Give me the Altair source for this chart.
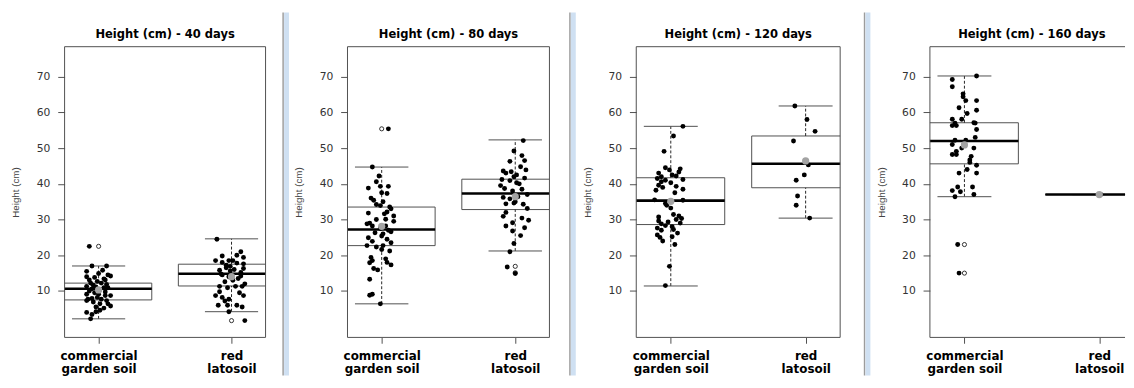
import json
import altair as alt
import pandas as pd

# ---------------- data ----------------
days = [40, 80, 120, 160]
soil_labels = ["commercial\ngarden soil", "red\nlatosoil"]
soil_pos = [1, 2]
y_ticks = [10, 20, 30, 40, 50, 60, 70]
y_domain = [-3.0, 78.4]
x_domain = [0.744, 2.256]

# observed heights (cm) and horizontal jitter (in group units)
h40_commercial = [22.5, 17.0, 17.0, 15.5, 14.9, 14.5, 14.0, 13.8, 13.4, 14.2, 12.2, 12.2, 11.8, 11.3, 11.1, 10.9,
                  10.0, 9.7, 9.1, 9.1, 8.7, 7.9, 7.7, 7.7, 7.3, 6.9, 6.4, 5.8, 5.5, 4.0, 4.6, 3.4, 2.2, 4.2, 10.9,
                  10.6, 10.4, 13.1, 13.1, 12.7, 7.3, 6.4, 8.2, 8.7, 15.8, 11.6, 9.5, 5.2]
j40_commercial = [-0.07, -0.05, 0.06, -0.09, 0.00, 0.07, -0.09, -0.03, 0.04, 0.09, -0.06, 0.02, 0.06, -0.09, -0.02,
                  0.07, -0.07, 0.05, -0.09, 0.00, 0.09, -0.05, -0.08, 0.02, 0.06, -0.04, 0.01, 0.09, -0.02, -0.09,
                  0.01, -0.05, -0.06, -0.02, 0.04, -0.05, 0.01, -0.07, 0.05, -0.01, -0.09, 0.07, -0.01, 0.05, 0.03,
                  -0.04, -0.03, 0.04]
h40_red = [24.5, 19.8, 21.0, 19.4, 18.5, 18.5, 18.5, 17.6, 15.8, 16.5, 16.3, 14.5, 14.0, 14.2, 11.3, 10.9, 11.3,
           11.3, 8.7, 8.2, 7.7, 8.7, 6.0, 6.0, 6.0, 5.5, 4.2, 1.7, 18.0, 17.8, 16.9, 16.0, 15.2, 14.8, 13.5, 12.6,
           12.0, 9.8, 9.5, 7.2, 15.6, 17.2, 13.0, 20.0]
j40_red = [-0.11, -0.07, 0.07, 0.09, -0.12, -0.02, 0.01, 0.09, -0.09, -0.04, 0.09, -0.07, -0.02, 0.07, -0.09, -0.03,
           0.03, 0.08, -0.12, -0.07, -0.02, 0.09, -0.10, -0.03, 0.04, 0.08, -0.02, 0.10, -0.07, 0.04, -0.01, 0.02,
           0.07, -0.08, 0.05, -0.05, 0.10, -0.09, 0.06, -0.05, -0.01, -0.04, 0.01, 0.04]

h80_commercial = [55.4, 44.7, 42.2, 38.8, 39.3, 39.3, 37.5, 37.3, 36.0, 35.4, 34.2, 33.9, 33.5, 33.0, 32.1, 31.8,
                  31.6, 30.1, 30.0, 29.5, 28.8, 28.2, 28.2, 27.5, 26.6, 26.3, 26.0, 25.4, 24.9, 24.5, 23.9, 22.7,
                  22.7, 22.3, 21.6, 21.2, 19.4, 19.0, 18.5, 18.0, 17.9, 17.3, 16.3, 15.9, 13.3, 9.1, 8.8, 6.4, 29.0,
                  31.0, 35.0, 40.6, 23.5, 27.0]
j80_commercial = [0.05, -0.07, -0.02, -0.10, -0.01, 0.05, 0.00, 0.04, -0.08, -0.06, -0.04, -0.01, 0.06, 0.07, 0.04,
                  -0.10, 0.02, 0.03, -0.04, 0.09, -0.11, -0.07, 0.03, -0.01, 0.07, -0.05, 0.01, 0.00, -0.10, 0.04,
                  -0.07, -0.11, 0.01, -0.04, 0.00, 0.06, -0.08, 0.03, -0.07, 0.04, -0.09, 0.07, -0.06, -0.03, -0.09,
                  -0.07, -0.09, -0.01, -0.09, 0.09, 0.01, -0.04, 0.07, 0.05]
h80_red = [52.1, 49.2, 47.9, 46.3, 46.5, 43.6, 43.0, 43.4, 42.5, 43.9, 41.2, 40.9, 40.3, 41.6, 38.7, 38.0, 38.5, 36.2,
           35.8, 36.4, 34.4, 34.6, 34.3, 33.1, 30.9, 30.4, 28.2, 29.1, 27.7, 26.8, 25.5, 23.3, 21.0, 16.7, 14.9, 42.0,
           40.0, 37.0, 39.5, 44.8, 32.0, 29.8, 35.0]
j80_red = [0.06, -0.01, 0.05, -0.04, 0.07, -0.09, -0.07, -0.03, 0.01, 0.08, -0.10, -0.04, 0.01, 0.07, -0.08, -0.02,
           0.05, -0.09, -0.04, 0.02, -0.07, -0.01, 0.06, 0.09, -0.09, 0.05, -0.07, -0.02, 0.07, -0.02, 0.04, -0.01,
           -0.04, -0.06, 0.00, -0.01, 0.03, 0.09, -0.11, 0.04, -0.07, 0.10, 0.00]

h120_commercial = [56.1, 53.4, 49.1, 44.5, 44.2, 43.9, 43.3, 43.0, 42.5, 42.2, 42.0, 41.5, 41.2, 41.0, 40.6, 40.3,
                   39.6, 39.3, 39.0, 38.5, 38.2, 37.5, 35.5, 35.4, 34.5, 34.0, 33.2, 31.4, 31.0, 30.7, 30.3, 30.0,
                   29.6, 29.3, 29.0, 28.8, 28.3, 28.0, 27.6, 27.2, 27.0, 26.2, 25.7, 25.2, 25.0, 24.0, 23.0, 16.9, 11.5]
j120_commercial = [0.09, 0.02, -0.05, -0.04, 0.07, -0.01, 0.06, -0.09, 0.01, 0.04, -0.07, -0.10, 0.09, -0.04, -0.07,
                   0.00, -0.09, 0.04, -0.06, 0.09, -0.11, 0.03, -0.12, 0.09, -0.04, -0.03, 0.00, 0.02, 0.06, -0.09,
                   0.08, 0.04, -0.09, -0.02, 0.07, -0.07, -0.04, 0.01, -0.10, 0.02, -0.07, 0.05, -0.10, 0.01, -0.08,
                   -0.06, 0.03, -0.01, -0.04]
h120_red = [61.8, 58.0, 54.7, 52.0, 45.3, 41.0, 42.5, 36.6, 34.0, 30.4]
j120_red = [-0.08, 0.01, 0.07, -0.09, 0.02, -0.07, -0.01, -0.06, -0.07, 0.03]

h160_commercial = [69.2, 70.2, 67.2, 65.2, 64.4, 63.3, 63.3, 61.3, 60.6, 59.7, 58.1, 58.1, 57.0, 57.1, 56.3, 56.3,
                   55.2, 53.0, 52.2, 52.2, 51.0, 50.0, 50.0, 49.1, 48.2, 48.2, 47.7, 46.7, 45.2, 44.0, 43.0, 43.0,
                   39.1, 39.1, 38.1, 37.8, 36.4, 37.0, 23.0, 15.0, 57.0, 46.0]
j160_commercial = [-0.09, 0.09, -0.09, -0.01, -0.01, 0.01, 0.09, -0.04, 0.09, 0.02, -0.09, -0.02, -0.07, 0.07, -0.09,
                   -0.06, 0.09, 0.08, -0.07, 0.01, -0.09, -0.02, 0.07, -0.06, -0.09, -0.06, 0.05, 0.04, 0.09, 0.02,
                   0.09, -0.04, 0.06, -0.05, -0.09, -0.03, -0.07, 0.07, -0.05, -0.04, 0.08, 0.04]
h160_red = [37.0]
j160_red = [0.01]

# box-plot statistics per day: [commercial garden soil, red latosoil]
whisker_low = [[2.2, 4.2], [6.4, 21.2], [11.4, 30.4], [36.4, 37.0]]
quartile_1 = [[7.5, 11.4], [22.7, 32.8], [28.6, 38.9], [45.6, 37.0]]
medians = [[10.6, 14.8], [27.2, 37.3], [35.3, 45.6], [52.0, 37.0]]
quartile_3 = [[12.2, 17.5], [33.5, 41.3], [41.7, 53.4], [57.1, 37.0]]
whisker_high = [[17.0, 24.6], [44.7, 52.3], [56.1, 61.8], [70.2, 37.0]]
means = [[10.3, 14.0], [28.1, 36.4], [35.1, 46.4], [50.9, 37.0]]
outliers = [[[22.5], [1.7]], [[55.4], [16.9, 15.1]], [[], []], [[23.0, 15.0], []]]

# ---------------- tables ----------------
heights = {40: (h40_commercial, h40_red), 80: (h80_commercial, h80_red),
           120: (h120_commercial, h120_red), 160: (h160_commercial, h160_red)}
jitters = {40: (j40_commercial, j40_red), 80: (j80_commercial, j80_red),
           120: (j120_commercial, j120_red), 160: (j160_commercial, j160_red)}

pt_rows, box_rows, out_rows = [], [], []
for i, d in enumerate(days):
    for k in range(2):
        for v, j in zip(heights[d][k], jitters[d][k]):
            pt_rows.append({"day": d, "pos": soil_pos[k], "height": v, "jit": j})
        box_rows.append({"day": d, "pos": soil_pos[k], "lo": whisker_low[i][k], "q1": quartile_1[i][k],
                         "med": medians[i][k], "q3": quartile_3[i][k], "hi": whisker_high[i][k],
                         "mean": means[i][k]})
        for v in outliers[i][k]:
            out_rows.append({"day": d, "pos": soil_pos[k], "height": v})

pts_df = pd.DataFrame(pt_rows)
box_df = pd.DataFrame(box_rows)
out_df = pd.DataFrame(out_rows)

label_arrays = [json.dumps(s.split("\n")) for s in soil_labels]
label_expr = f"datum.value == {soil_pos[0]} ? {label_arrays[0]} : {label_arrays[1]}"

PANEL_H = 298
SEP_TOP, SEP_BOT = -35, 337
FRAME = "#4d4d4d"
one = pd.DataFrame({"t": ["x"]})
FULL_W = 209


def vbar(x0, x1, color):
    return alt.Chart(one).mark_rect(color=color, opacity=1).encode(
        x=alt.value(x0), x2=alt.value(x1), y=alt.value(SEP_TOP), y2=alt.value(SEP_BOT))


def panel(i, width, sep_x, right_pad, right_border=True):
    d = days[i]
    # the last window is cut by the screen edge: same scale, shorter visible range
    x_max = x_domain[0] + (x_domain[1] - x_domain[0]) * width / (width if right_border else FULL_W)
    xs = alt.Scale(domain=[x_domain[0], x_max], nice=False, zero=False)
    ys = alt.Scale(domain=y_domain, nice=False, zero=False)
    x_axis = alt.Axis(values=soil_pos, labelExpr=label_expr, title=None, domain=False, grid=False,
                      tickSize=6, tickColor=FRAME, labelPadding=17, labelBaseline="alphabetic",
                      labelLineHeight=13, labelFont="DejaVu Sans", labelFontSize=12.2,
                      labelFontWeight="bold", labelColor="#000000", labelFlush=False,
                      labelOverlap=False, labelBound=False, labelAlign="center")
    y_axis = alt.Axis(values=y_ticks, title="Height (cm)", domain=False, grid=False, tickSize=7,
                      tickColor=FRAME, labelPadding=8, labelFont="DejaVu Sans", labelFontSize=11,
                      labelColor="#333333", titleFont="Liberation Sans", titleFontSize=10,
                      titleFontWeight="normal", titleColor="#444444", titleAngle=270, titleX=-47,
                      titleY=PANEL_H / 2, titleAlign="center", titleBaseline="alphabetic",
                      labelOverlap=False)

    def X(field):
        return alt.X(field, type="quantitative", scale=xs, axis=x_axis)

    def Y(field):
        return alt.Y(field, type="quantitative", scale=ys, axis=y_axis)

    bx = alt.Chart(box_df[box_df.day == d]).transform_calculate(
        left="datum.pos - 0.4", right="datum.pos + 0.4",
        cap_l="datum.pos - 0.2", cap_r="datum.pos + 0.2")

    boxes = bx.mark_rect(fill="white", fillOpacity=0, stroke=FRAME, strokeWidth=1, clip=True).encode(
        x=X("left"), x2="right", y=Y("q1"), y2="q3")
    wh_up = bx.mark_rule(color="#222222", strokeDash=[3, 2], strokeWidth=1, clip=True).encode(
        x=X("pos"), y=Y("q3"), y2="hi")
    wh_dn = bx.mark_rule(color="#222222", strokeDash=[3, 2], strokeWidth=1, clip=True).encode(
        x=X("pos"), y=Y("lo"), y2="q1")
    cap_hi = bx.mark_rule(color=FRAME, strokeWidth=1, clip=True).encode(
        x=X("cap_l"), x2="cap_r", y=Y("hi"))
    cap_lo = bx.mark_rule(color=FRAME, strokeWidth=1, clip=True).encode(
        x=X("cap_l"), x2="cap_r", y=Y("lo"))
    med = bx.mark_rule(color="#000000", strokeWidth=2.6, clip=True).encode(
        x=X("left"), x2="right", y=Y("med"))

    layers = []
    # window separators (the first panel gets an invisible one so all panels share the same extent)
    if sep_x is None:
        layers.append(vbar(-42, -38, "white"))
    else:
        layers.append(vbar(sep_x - 0.75, sep_x + 0.75, "#9c9c9c"))
        layers.append(vbar(sep_x + 1, sep_x + 6, "#cfe0f2"))
    if right_pad:
        layers.append(alt.Chart(one).mark_rule(color="white", strokeWidth=1).encode(
            x=alt.value(width + right_pad), y=alt.value(0), y2=alt.value(1)))

    layers += [boxes, wh_up, wh_dn, cap_hi, cap_lo]

    od = out_df[out_df.day == d]
    if len(od):
        layers.append(alt.Chart(od).mark_point(shape="circle", filled=False, color="#000000", size=18,
                                               strokeWidth=0.8, opacity=1, clip=True).encode(
            x=X("pos"), y=Y("height")))

    layers.append(med)
    layers.append(alt.Chart(pts_df[pts_df.day == d]).transform_calculate(xj="datum.pos + datum.jit")
                  .mark_circle(size=25, color="#000000", opacity=1, clip=True).encode(
        x=X("xj"), y=Y("height")))
    layers.append(bx.mark_circle(size=55, color="#a3a3a3", opacity=1, clip=True).encode(
        x=X("pos"), y=Y("mean")))

    # plot frame
    layers.append(alt.Chart(one).mark_rule(color=FRAME, strokeWidth=1).encode(x=alt.value(0)))
    if right_border:
        layers.append(alt.Chart(one).mark_rule(color=FRAME, strokeWidth=1).encode(x=alt.value(width)))
    layers.append(alt.Chart(one).mark_rule(color=FRAME, strokeWidth=1).encode(y=alt.value(0)))
    layers.append(alt.Chart(one).mark_rule(color=FRAME, strokeWidth=1).encode(y=alt.value(PANEL_H)))

    full = width if right_border else FULL_W
    title_df = pd.DataFrame({"t": [f"Height (cm) - {d} days"]})
    layers.append(alt.Chart(title_df).mark_text(font="DejaVu Sans", fontSize=11.8, fontWeight="bold",
                                                color="#000000", align="center", baseline="alphabetic").encode(
        x=alt.value(full / 2), y=alt.value(-9), text="t:N"))

    return alt.layer(*layers).properties(width=width, height=PANEL_H)


p1 = panel(0, 206, None, 0)
p2 = panel(1, 207, -66, 3)
p3 = panel(2, 209, -68, 7)
p4 = panel(3, 200, -67, 0, right_border=False)

chart = alt.hconcat(p1, p2, p3, p4, spacing=16).properties(
    padding={"left": 3, "top": 0, "right": 0, "bottom": 0},
    background="white",
).configure_view(strokeWidth=0)

chart.save("out.html", embed_options={"renderer": "svg", "actions": False})
